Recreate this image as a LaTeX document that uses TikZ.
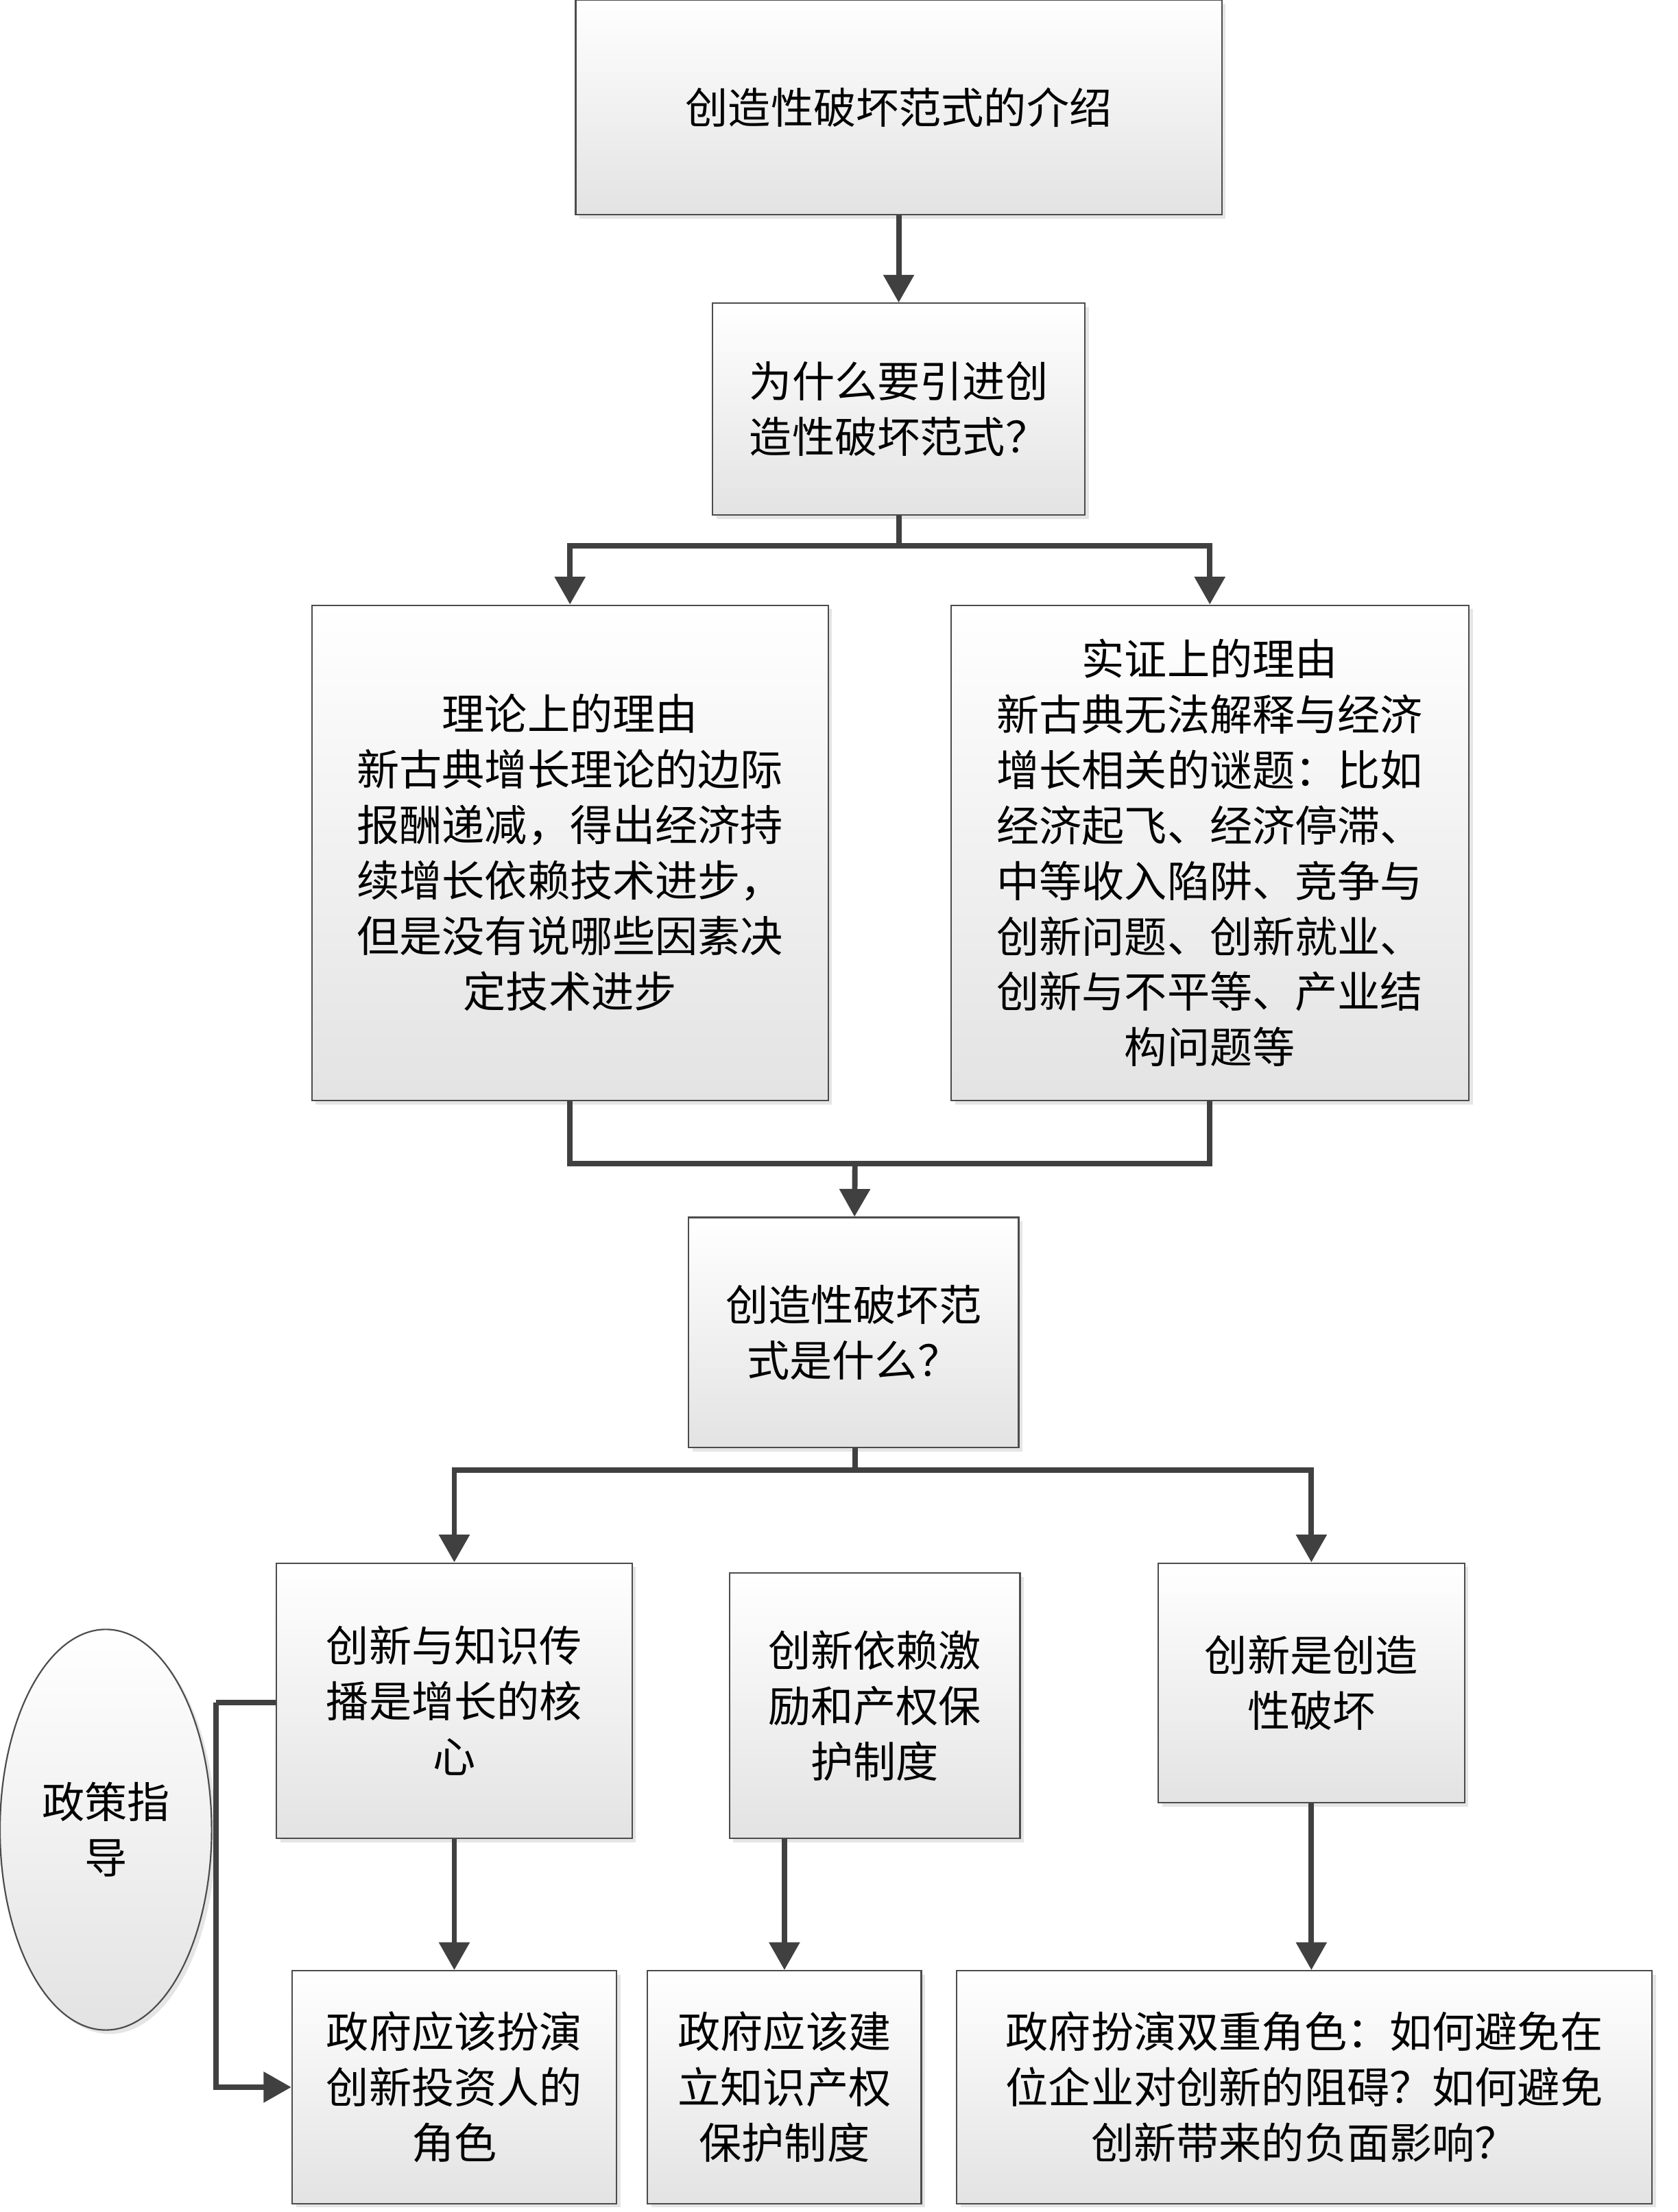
\documentclass[tikz,border=0pt]{standalone}
\usepackage{fontspec}
\setmainfont{Noto Sans CJK SC}
\usetikzlibrary{shadows}
\usetikzlibrary{shapes.geometric}
\usetikzlibrary{arrows.meta}
\tikzstyle{box} = [draw=black!70, line width=1.5pt, top color=white, bottom color=gray!22, drop shadow={shadow xshift=4pt, shadow yshift=-4pt, fill=gray!40}, align=center, inner sep=0pt, font=\fontsize{43}{56}\selectfont]
\tikzstyle{link} = [line width=5.5pt, draw=black!75, -{Triangle[length=28pt, width=30pt]}]
\tikzstyle{line} = [line width=5.5pt, draw=black!75]

\begin{document}
\begin{tikzpicture}[x=0.05cm, y=-0.05cm]
	\useasboundingbox (0,0) rectangle (1189,1568);

	\node [box, minimum width=22.9cm, minimum height=7.6cm] (intro) at (637,76) {创造性破坏范式的介绍};
	\node [box, minimum width=13.2cm, minimum height=7.5cm] (why) at (637,290) {为什么要引进创\\造性破坏范式？};
	\node [box, minimum width=18.3cm, minimum height=17.55cm] (theory) at (404,604.5) {理论上的理由\\新古典增长理论的边际\\报酬递减，得出经济持\\续增长依赖技术进步，\\但是没有说哪些因素决\\定技术进步};
	\node [box, minimum width=18.35cm, minimum height=17.55cm] (fact) at (857.5,604.5) {实证上的理由\\新古典无法解释与经济\\增长相关的谜题：比如\\经济起飞、经济停滞、\\中等收入陷阱、竞争与\\创新问题、创新就业、\\创新与不平等、产业结\\构问题等};
	\node [box, minimum width=11.7cm, minimum height=8.15cm] (what) at (605,944.5) {创造性破坏范\\式是什么？};

	\node [box, minimum width=12.6cm, minimum height=9.75cm] (core) at (322,1205.5) {创新与知识传\\播是增长的核\\心};
	\node [box, minimum width=10.3cm, minimum height=9.4cm] (right) at (620,1209) {创新依赖激\\励和产权保\\护制度};
	\node [box, minimum width=10.85cm, minimum height=8.5cm] (destroy) at (929.5,1193) {创新是创造\\性破坏};

	\node [box, minimum width=11.5cm, minimum height=8.25cm] (invest) at (322,1479.5) {政府应该扮演\\创新投资人的\\角色};
	\node [box, minimum width=9.7cm, minimum height=8.25cm] (protect) at (556,1479.5) {政府应该建\\立知识产权\\保护制度};
	\node [box, minimum width=24.65cm, minimum height=8.25cm] (dual) at (924.5,1479.5) {政府扮演双重角色：如何避免在\\位企业对创新的阻碍？如何避免\\创新带来的负面影响？};

	\node [box, ellipse, minimum width=7.5cm, minimum height=14.2cm] (policy) at (75,1297) {政策指\\导};

	\coordinate (split1) at (637,387);
	\coordinate (join1) at (606,825);
	\coordinate (split2) at (606,1042);
	\coordinate (side) at (153,1207);

	\draw [link] (intro) -- (why);
	\draw [line] (why) -- (split1);
	\draw [link] (split1) -| (theory);
	\draw [link] (split1) -| (fact);
	\draw [line] (theory) |- (join1);
	\draw [line] (fact) |- (join1);
	\draw [link] (join1) -- (what);
	\draw [line] (what.south -| split2) -- (split2);
	\draw [link] (split2) -| (core);
	\draw [link] (split2) -| (destroy);
	\draw [link] (core) -- (invest);
	\draw [link] (right.south -| protect) -- (protect);
	\draw [link] (destroy.south) -- (destroy.south |- dual.north);
	\draw [line] (core.west |- side) -- (side);
	\draw [link] (side) |- (invest.west);
\end{tikzpicture}
\end{document}
